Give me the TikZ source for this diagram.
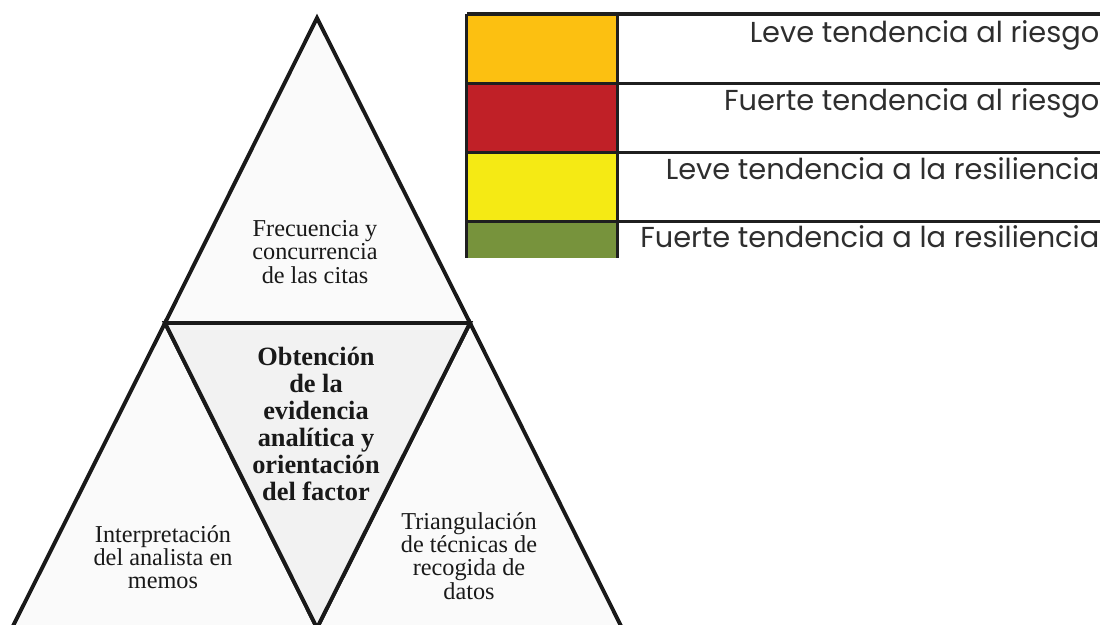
\documentclass[tikz,border=0pt]{standalone}
\usepackage{fontspec}
\setmainfont{Liberation Serif}
\newfontfamily\keyfont{Poppins}
\usepackage{tikz}
\usetikzlibrary{positioning}

\definecolor{leveriesgo}{HTML}{FCC011}
\definecolor{fuerteriesgo}{HTML}{C02027}
\definecolor{leveres}{HTML}{F5EA14}
\definecolor{fuerteres}{HTML}{77933C}

\begin{document}
\begin{tikzpicture}
  [x=0.01cm,y=-0.01cm,
   tri/.style={draw=black!90,line width=1.1pt,fill=black!2},
   mid/.style={tri,fill=black!5},
   txt/.style={align=center,inner sep=0pt,text=black!90,font=\fontsize{6.9}{6.6}\selectfont},
   bold/.style={txt,font=\fontsize{7.5}{7.7}\selectfont\bfseries},
   cell/.style={rectangle,minimum width=1.5cm,minimum height=0.69cm,inner sep=0pt,outer sep=0pt},
   rule/.style={draw=black!88,line width=0.85pt},
   key/.style={anchor=base east,inner sep=0pt,text=black!82,font=\keyfont\fontsize{8.2}{9}\selectfont}]

  \useasboundingbox (0,0) rectangle (1100,625);

  % corners of the big triangle
  \coordinate (apex) at (317,18);
  \coordinate (left) at (165,323);
  \coordinate (right) at (470,323);
  \coordinate (bl) at (12,628);
  \coordinate (bm) at (317,628);
  \coordinate (br) at (622,628);

  \filldraw[tri] (apex) -- (left) -- (right) -- cycle;
  \filldraw[tri] (left) -- (bl) -- (bm) -- cycle;
  \filldraw[tri] (right) -- (bm) -- (br) -- cycle;
  \filldraw[mid] (left) -- (right) -- (bm) -- cycle;

  \node[txt] (freq) at (315,252) {Frecuencia y\\concurrencia\\de las citas};
  \node[bold] (obt) at (316,424) {Obtención\\de la\\evidencia\\analítica y\\orientación\\del factor};
  \node[txt] (interp) at (163,557) {Interpretación\\del analista en\\memos};
  \node[txt] (triang) at (469,556) {Triangulación\\de técnicas de\\recogida de\\datos};

  % legend
  \coordinate (edge) at (1100,0);
  \node[cell,fill=leveriesgo] (c1) at (542,48.5) {};
  \node[cell,fill=fuerteriesgo,below=0pt of c1] (c2) {};
  \node[cell,fill=leveres,below=0pt of c2] (c3) {};
  \node[cell,fill=fuerteres,minimum height=0.37cm,below=0pt of c3] (c4) {};

  \draw[rule,line width=1.2pt] (c1.north west) -- (c1.north west -| edge);
  \foreach \c in {c2,c3,c4}
    \draw[rule] (\c.north west) -- (\c.north west -| edge);
  \draw[rule] (c1.north west) -- (c4.south west);
  \draw[rule] (c1.north east) -- (c4.south east);

  \node[key] (k1) at (1100,43) {Leve tendencia al riesgo};
  \node[key] (k2) at (1100,111) {Fuerte tendencia al riesgo};
  \node[key] (k3) at (1100,180) {Leve tendencia a la resiliencia};
  \node[key] (k4) at (1100,248) {Fuerte tendencia a la resiliencia};

\end{tikzpicture}
\end{document}
